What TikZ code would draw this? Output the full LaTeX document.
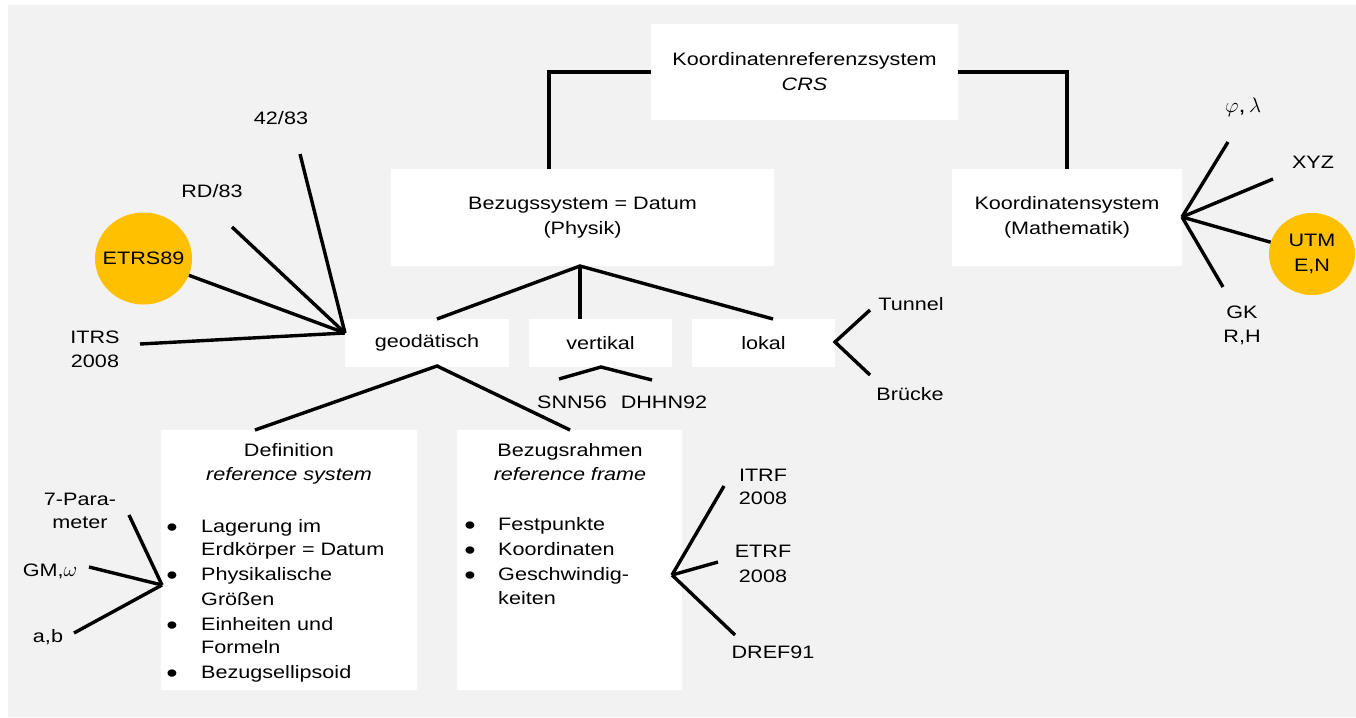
\documentclass[tikz,border=0pt]{standalone}
\usepackage{fix-cm}
\usepackage{fontspec}
\setmainfont{Liberation Sans}[FakeStretch=1.2]
\usetikzlibrary{shapes.geometric}
\definecolor{bggray}{HTML}{F2F2F2}
\definecolor{gold}{HTML}{FFC000}
\newcommand{\bul}{\smash{\fontsize{27bp}{27bp}\selectfont\raisebox{-4.5bp}{•}}}
\tikzset{
  box/.style={rectangle, fill=white, draw=none, inner sep=0pt, align=center},
  lbl/.style={inner sep=0pt, anchor=base},
  lblw/.style={inner sep=0pt, anchor=base west},
  conn/.style={line width=3.4bp, black},
  blob/.style={ellipse, fill=gold, draw=none, inner sep=0pt},
  grk/.style={font=\fontsize{21bp}{25bp}\selectfont},
}
\begin{document}
\begin{tikzpicture}[x=1bp, y=-1bp, font=\fontsize{18bp}{25bp}\selectfont]
\useasboundingbox (0,0) rectangle (1356,717);
\fill[bggray] (8,5) rectangle (1356,717);

% boxes
\node[box, minimum width=307bp, minimum height=96bp] (crs) at (804.5,72) {Koordinatenreferenzsystem\\\textit{CRS}};
\node[box, minimum width=383bp, minimum height=97bp] (bez) at (582.5,217.5) {Bezugssystem = Datum\\(Physik)};
\node[box, minimum width=230bp, minimum height=97bp] (kos) at (1067,217.5) {Koordinatensystem\\(Mathematik)};
\node[box, minimum width=164bp, minimum height=48bp] (geo) at (427,343) {geodätisch};
\node[box, minimum width=143bp, minimum height=48bp] (ver) at (600.5,343) {vertikal};
\node[box, minimum width=143bp, minimum height=48bp] (lok) at (763.5,343) {lokal};
\node[box, minimum width=256bp, minimum height=260bp] (def) at (289,560) {};
\node[box, minimum width=225bp, minimum height=260bp] (rah) at (569.5,560) {};

% circles
\node[blob, minimum width=97bp, minimum height=92bp] (etrs) at (143.5,258.5) {};
\node[inner sep=0pt] (etrst) at (etrs.center) {ETRS89};
\node[blob, minimum width=86bp, minimum height=82bp] (utm) at (1312,254) {};
\node[inner sep=0pt, align=center] (utmt) at (utm.center) {UTM\\E,N};

% box titles
\node[lbl] (deft1) at (289,456) {Definition};
\node[lbl] (deft2) at (289,480) {\textit{reference system}};
\node[lbl] (raht1) at (570,456) {Bezugsrahmen};
\node[lbl] (raht2) at (570,480) {\textit{reference frame}};

% definition list
\node[lbl] (db1) at (172,532) {\bul};
\node[lbl] (db2) at (172,580) {\bul};
\node[lbl] (db3) at (172,630) {\bul};
\node[lbl] (db4) at (172,678) {\bul};
\node[lblw] (dl1) at (201,532) {Lagerung im};
\node[lblw] (dl2) at (201,555) {Erdkörper = Datum};
\node[lblw] (dl3) at (201,580) {Physikalische};
\node[lblw] (dl4) at (201,605) {Größen};
\node[lblw] (dl5) at (201,630) {Einheiten und};
\node[lblw] (dl6) at (201,653) {Formeln};
\node[lblw] (dl7) at (201,678) {Bezugsellipsoid};

% rahmen list
\node[lbl] (rb1) at (470,530) {\bul};
\node[lbl] (rb2) at (470,555) {\bul};
\node[lbl] (rb3) at (470,580) {\bul};
\node[lblw] (rl1) at (498,530) {Festpunkte};
\node[lblw] (rl2) at (498,555) {Koordinaten};
\node[lblw] (rl3) at (498,580) {Geschwindig-};
\node[lblw] (rl4) at (498,604) {keiten};

% free labels
\node[lbl] (t4283) at (281,125) {42/83};
\node[lbl] (trd) at (212,197) {RD/83};
\node[lbl] (titrs1) at (95,343) {ITRS};
\node[lbl] (titrs2) at (95,367) {2008};
\node[lbl, grk] (tphi) at (1243,113) {$\varphi$,\,$\lambda$};
\node[lbl] (txyz) at (1313,168) {XYZ};
\node[lbl] (tgk1) at (1242,318) {GK};
\node[lbl] (tgk2) at (1242,342) {R,H};
\node[lbl] (ttun) at (911,310) {Tunnel};
\node[lbl] (tbru) at (910,400) {Brücke};
\node[lbl] (tsnn) at (572,408) {SNN56};
\node[lbl] (tdhhn) at (664,408) {DHHN92};
\node[lbl] (tpar1) at (80,505) {7-Para-};
\node[lbl] (tpar2) at (80,528) {meter};
\node[lbl] (tgm) at (50,576) {GM,{\fontsize{21bp}{25bp}\selectfont$\omega$}};
\node[lbl] (tab) at (48,642) {a,b};
\node[lbl] (titrf1) at (763,481) {ITRF};
\node[lbl] (titrf2) at (763,504) {2008};
\node[lbl] (tetrf1) at (763,557) {ETRF};
\node[lbl] (tetrf2) at (763,582) {2008};
\node[lbl] (tdref) at (773,658) {DREF91};

% coordinates for connector ends
\coordinate (bezTop) at (549,169);
\coordinate (bezBot) at (580,266);
\coordinate (geoTop) at (437,319);
\coordinate (verTop) at (580,319);
\coordinate (lokTop) at (773,319);
\coordinate (geoBot) at (437,366);
\coordinate (defTop) at (255,430);
\coordinate (rahTop) at (570,430);
\coordinate (verBot) at (601,367);
\coordinate (eSNN) at (559,379);
\coordinate (eDHHN) at (652,380);
\coordinate (lokR) at (835,342);
\coordinate (eTun) at (870,310);
\coordinate (eBru) at (870,375);
\coordinate (gfan) at (345,333);
\coordinate (e4283) at (300,154);
\coordinate (eRD) at (232,227);
\coordinate (eITRS) at (140,344);
\coordinate (kfan) at (1182,217);
\coordinate (ePhi) at (1228,142);
\coordinate (eXYZ) at (1273,179);
\coordinate (eGK) at (1223,287);
\coordinate (dfan) at (162,585);
\coordinate (ePar) at (129,515);
\coordinate (eGM) at (89,567);
\coordinate (eAB) at (74,633);
\coordinate (rfan) at (672,575);
\coordinate (eITRF) at (724,486);
\coordinate (eETRF) at (718,562);
\coordinate (eDREF) at (735,635);

% connectors
\draw[conn] (crs.west) -| (bezTop);
\draw[conn] (crs.east) -| (kos.north);
\draw[conn] (geoTop) -- (bezBot) -- (lokTop);
\draw[conn] (bezBot) -- (verTop);
\draw[conn] (defTop) -- (geoBot) -- (rahTop);
\draw[conn] (eSNN) -- (verBot) -- (eDHHN);
\draw[conn] (eTun) -- (lokR) -- (eBru);
\draw[conn] (e4283) -- (gfan);
\draw[conn] (eRD) -- (gfan);
\draw[conn] (etrs) -- (gfan);
\draw[conn] (eITRS) -- (gfan);
\draw[conn] (ePhi) -- (kfan);
\draw[conn] (eXYZ) -- (kfan);
\draw[conn] (utm) -- (kfan);
\draw[conn] (eGK) -- (kfan);
\draw[conn] (ePar) -- (dfan);
\draw[conn] (eGM) -- (dfan);
\draw[conn] (eAB) -- (dfan);
\draw[conn] (eITRF) -- (rfan);
\draw[conn] (eETRF) -- (rfan);
\draw[conn] (eDREF) -- (rfan);
\end{tikzpicture}
\end{document}
